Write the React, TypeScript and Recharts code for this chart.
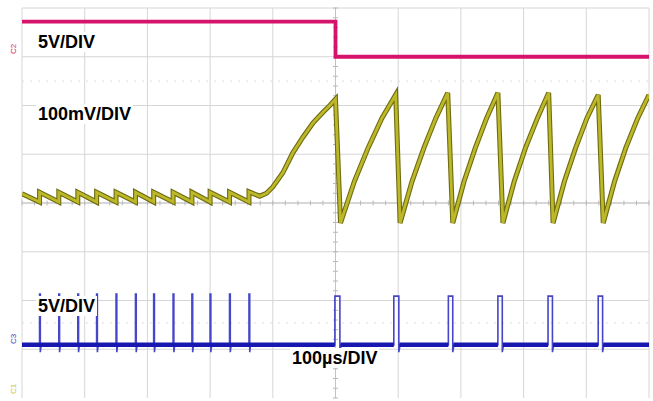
import React from 'react';
import { LineChart, Line, XAxis, YAxis, CartesianGrid, ReferenceLine } from 'recharts';

// Scope screen units: time in µs (100 µs/div), level in divisions from centre line
const timeGrid = [0, 100, 200, 300, 400, 500, 600, 700, 800, 900, 1000];
const levelGrid = [-4, -3, -2, -1, 0, 1, 2, 3, 4];
const markerLevels = [2.5, -2.46];

// C2 (magenta) - steps down at the trigger point
const c2Trace: [number, number][] = [
  [0, 3.72], [500, 3.72], [500, 3.0], [1000, 3.0],
];

// C1 (yellow) - small sawtooth, soft ramp, then large sawtooth
const c1Trace: [number, number][] = [
  [0, 0.19], [28, 0.02], [28, 0.22], [58.7, 0.02], [58.7, 0.22], [89, 0.02], [89, 0.22],
  [119, 0.02], [119, 0.22], [150, 0.02], [150, 0.22], [181, 0.02], [181, 0.22],
  [210, 0.02], [210, 0.22], [241, 0.02], [241, 0.22], [271, 0.02], [271, 0.22],
  [300, 0.02], [300, 0.22], [331, 0.02], [331, 0.22], [362, 0.02], [362, 0.23],
  [379, 0.14], [390, 0.2], [400, 0.33], [416, 0.62], [432, 1.03], [448, 1.35],
  [464, 1.64], [480, 1.86], [491, 2.0], [500, 2.13],
  [508, -0.41], [530, 0.44], [552, 1.13], [574, 1.74], [596, 2.22],
  [603, -0.41], [622, 0.44], [641, 1.13], [660, 1.74], [679, 2.26],
  [687, -0.41], [705, 0.44], [723, 1.13], [741, 1.74], [759, 2.26],
  [767, -0.41], [785, 0.44], [803, 1.13], [822, 1.74], [840, 2.26],
  [847, -0.41], [865, 0.44], [883, 1.13], [901, 1.74], [919, 2.22],
  [927, -0.41], [945, 0.44], [963, 1.13], [982, 1.74], [1000, 2.22],
];

// C3 (blue) - narrow spikes, then wider pulses
const c3Base = -2.91;
const c3Dip = -3.06;
const c3SpikeTop = -1.87;
const c3PulseTop = -1.91;
const c3Spikes = [28, 58.7, 89, 119, 150, 181, 210, 241, 271, 300, 331, 362];
const c3PulseStart = [499, 593, 680, 759, 839, 919];
const c3PulseEnd = [507, 601, 687, 766, 846, 926];

const toRows = (pts: [number, number][]) => pts.map(([t, v]) => ({ t, v }));

const c3Rows: { t: number; v: number }[] = [{ t: 0, v: c3Base }];
c3Spikes.forEach((s) => {
  c3Rows.push({ t: s, v: c3Base }, { t: s, v: c3SpikeTop }, { t: s + 1.2, v: c3SpikeTop },
    { t: s + 1.2, v: c3Dip }, { t: s + 2.5, v: c3Base });
});
c3PulseStart.forEach((a, i) => {
  const b = c3PulseEnd[i];
  c3Rows.push({ t: a, v: c3Base }, { t: a, v: c3PulseTop }, { t: b, v: c3PulseTop },
    { t: b, v: c3Dip }, { t: b + 2, v: c3Base });
});
c3Rows.push({ t: 1000, v: c3Base });

const c3BaseRows: { t: number; v: number | null }[] = [{ t: 0, v: c3Base }];
c3PulseStart.forEach((a, i) => {
  const b = c3PulseEnd[i];
  c3BaseRows.push({ t: a, v: c3Base }, { t: (a + b) / 2, v: null }, { t: b + 1, v: c3Base });
});
c3BaseRows.push({ t: 1000, v: c3Base });

const hTicks = Array.from({ length: 51 }, (_, i) => i * 20);
const vTicks = Array.from({ length: 41 }, (_, i) => -4 + i * 0.2);

const labelFont = 'Arial, "Liberation Sans", Helvetica, sans-serif';
const labels = [
  { text: '5V/DIV', left: 36, top: 32 },
  { text: '100mV/DIV', left: 36, top: 104 },
  { text: '5V/DIV', left: 36, top: 296 },
  { text: '100µs/DIV', left: 290, top: 348 },
];

const markers = [
  { text: 'C2', color: '#d6136b', left: 9, top: 45 },
  { text: 'C3', color: '#3a3ac0', left: 9, top: 335 },
  { text: 'C1', color: '#c8c23a', left: 9, top: 385 },
];

export default function App() {
  return (
    <div style={{ position: 'absolute', left: 0, top: 0, width: 653, height: 401, background: '#fff', overflow: 'hidden' }}>
      <LineChart width={653} height={401} margin={{ top: 8, right: 4, bottom: 3, left: 22 }}>
        <CartesianGrid stroke="#d6d6d6" horizontalValues={levelGrid} verticalValues={timeGrid} />
        <XAxis dataKey="t" type="number" domain={[0, 1000]} ticks={timeGrid} hide allowDataOverflow />
        <YAxis type="number" domain={[-4, 4]} ticks={levelGrid} hide allowDataOverflow />
        <ReferenceLine x={500} stroke="#c2c2c2" />
        <ReferenceLine y={0} stroke="#c2c2c2" />
        {markerLevels.map((y) => (
          <ReferenceLine key={`m${y}`} y={y} stroke="#dedede" strokeDasharray="2 6" />
        ))}
        {hTicks.map((t) => (
          <ReferenceLine key={`h${t}`} segment={[{ x: t, y: -0.05 }, { x: t, y: 0.05 }]} stroke="#b8b8b8" />
        ))}
        {vTicks.map((v) => (
          <ReferenceLine key={`v${v}`} segment={[{ x: 496, y: v }, { x: 504, y: v }]} stroke="#b8b8b8" />
        ))}
        <Line data={toRows(c2Trace)} dataKey="v" type="linear" stroke="#d6136b" strokeWidth={3.8} dot={false} isAnimationActive={false} />
        <Line data={toRows(c1Trace)} dataKey="v" type="linear" stroke="#6e6c10" strokeWidth={5} dot={false} isAnimationActive={false} />
        <Line data={toRows(c1Trace)} dataKey="v" type="linear" stroke="#bdb82a" strokeWidth={2.8} dot={false} isAnimationActive={false} />
        <Line data={c3Rows} dataKey="v" type="linear" stroke="#4646c8" strokeWidth={1.6} dot={false} isAnimationActive={false} />
        <Line data={c3BaseRows} dataKey="v" type="linear" stroke="#1818b0" strokeWidth={4.5} dot={false} connectNulls={false} isAnimationActive={false} />
      </LineChart>
      {labels.map((l, i) => (
        <div
          key={i}
          style={{
            position: 'absolute', left: l.left, top: l.top, fontFamily: labelFont, fontWeight: 700,
            fontSize: 18, lineHeight: '20px', background: '#fff', padding: '0 2px', color: '#000', whiteSpace: 'nowrap',
          }}
        >
          {l.text}
        </div>
      ))}
      {markers.map((m, i) => (
        <div
          key={i}
          style={{
            position: 'absolute', left: m.left, top: m.top, fontFamily: labelFont, fontSize: 8, color: m.color,
            transform: 'rotate(-90deg)', lineHeight: '8px',
          }}
        >
          {m.text}
        </div>
      ))}
    </div>
  );
}
